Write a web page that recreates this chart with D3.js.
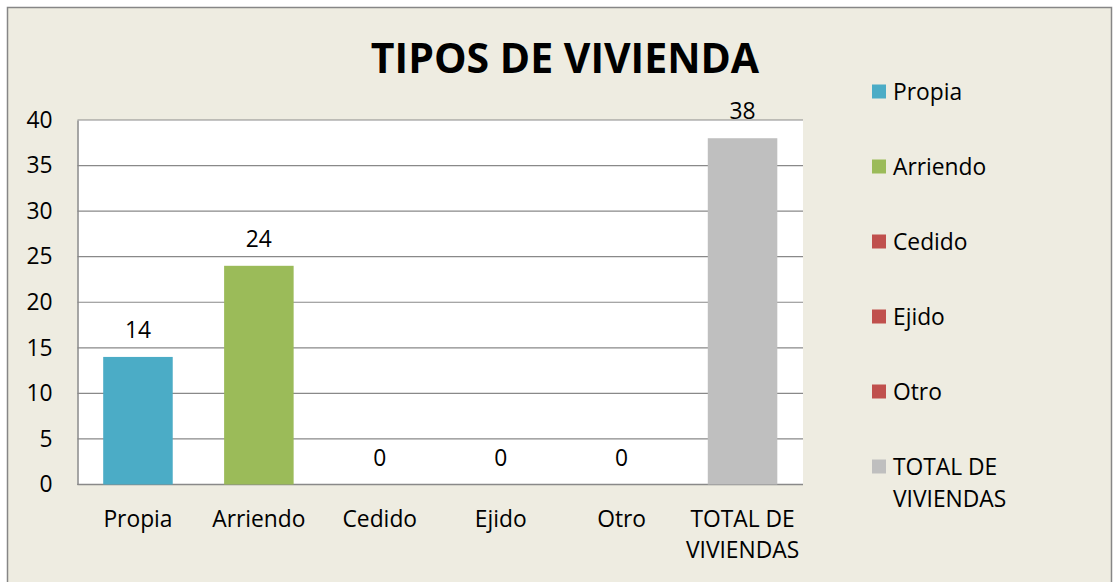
<!DOCTYPE html>
<html>
<head>
<meta charset="utf-8">
<script src="https://cdn.jsdelivr.net/npm/d3@7"></script>
<style>
  html, body { margin: 0; padding: 0; background: #ffffff; }
  svg { display: block; }
  text { font-family: "Open Sans", "Noto Sans", sans-serif; fill: #000; }
</style>
</head>
<body>
<svg id="chart" width="1113" height="582"></svg>
<script>
// ---- Data ----
const categories = ["Propia", "Arriendo", "Cedido", "Ejido", "Otro", "TOTAL DE VIVIENDAS"];
const categoryLines = [["Propia"], ["Arriendo"], ["Cedido"], ["Ejido"], ["Otro"], ["TOTAL DE", "VIVIENDAS"]];
const values = [14, 24, 0, 0, 0, 38];
const colors = ["#4BACC6", "#9BBB59", "#C0504D", "#C0504D", "#C0504D", "#BFBFBF"];
const yTicks = [0, 5, 10, 15, 20, 25, 30, 35, 40];
const title = "TIPOS DE VIVIENDA";

// ---- Layout ----
const svg = d3.select("#chart");
const W = 1113, H = 582;
const plot = { left: 77.5, right: 803, top: 120, bottom: 484.5 };
const FS = 22.8;

// background + outer border
svg.append("rect").attr("x", 0).attr("y", 0).attr("width", W).attr("height", H).attr("fill", "#ffffff");
svg.append("rect").attr("x", 7.5).attr("y", 7.5).attr("width", 1104).attr("height", 620)
  .attr("fill", "#EEECE1").attr("stroke", "#868686").attr("stroke-width", 1.5);

// plot area
svg.append("rect").attr("x", plot.left).attr("y", plot.top)
  .attr("width", plot.right - plot.left).attr("height", plot.bottom - plot.top)
  .attr("fill", "#ffffff");

const x = d3.scaleBand().domain(categories).range([plot.left, plot.right])
  .paddingInner(0.425).paddingOuter(0.2125);
const y = d3.scaleLinear().domain([0, 40]).range([plot.bottom, plot.top]);

// gridlines
svg.append("g").selectAll("line").data(yTicks).join("line")
  .attr("x1", plot.left).attr("x2", plot.right)
  .attr("y1", d => y(d)).attr("y2", d => y(d))
  .attr("stroke", "#898989").attr("stroke-width", 1.2);

// y axis via d3 axis
const yAxis = d3.axisLeft(y).tickValues(yTicks).tickSize(0).tickPadding(25).tickFormat(d3.format("d"));
const gy = svg.append("g").attr("transform", `translate(${plot.left},0)`).call(yAxis);
gy.select(".domain").attr("stroke", "#898989").attr("stroke-width", 1.5);
gy.selectAll("text").attr("font-size", FS).attr("font-family", '"Open Sans", sans-serif').attr("fill", "#000");

// bottom axis line
svg.append("line").attr("x1", plot.left).attr("x2", plot.right)
  .attr("y1", y(0)).attr("y2", y(0)).attr("stroke", "#898989").attr("stroke-width", 1.5);

// bars
svg.append("g").selectAll("rect").data(values).join("rect")
  .attr("x", (d, i) => x(categories[i]))
  .attr("width", x.bandwidth())
  .attr("y", d => y(d))
  .attr("height", d => y(0) - y(d))
  .attr("fill", (d, i) => colors[i]);

// value labels
svg.append("g").selectAll("text").data(values).join("text")
  .attr("x", (d, i) => x(categories[i]) + x.bandwidth() / 2)
  .attr("y", d => y(d) - 19)
  .attr("text-anchor", "middle")
  .attr("font-size", FS)
  .text(d => d);

// x category labels
const xl = svg.append("g").selectAll("text").data(categoryLines).join("text")
  .attr("x", (d, i) => x(categories[i]) + x.bandwidth() / 2)
  .attr("y", 527)
  .attr("text-anchor", "middle")
  .attr("font-size", FS);
xl.selectAll("tspan").data(d => d).join("tspan")
  .attr("x", function() { return d3.select(this.parentNode).attr("x"); })
  .attr("dy", (d, j) => j === 0 ? 0 : 31)
  .text(d => d);

// title
svg.append("text").attr("x", 565).attr("y", 73)
  .attr("text-anchor", "middle").attr("font-size", 41).attr("font-weight", "bold")
  .text(title);

// legend
const lg = svg.append("g").selectAll("g").data(categories).join("g")
  .attr("transform", (d, i) => `translate(872,${91.5 + i * 75})`);
lg.append("rect").attr("x", 0).attr("y", -7).attr("width", 14).attr("height", 14)
  .attr("fill", (d, i) => colors[i]);
const lt = lg.append("text").attr("x", 21).attr("y", 8).attr("font-size", FS);
lt.selectAll("tspan").data((d, i) => categoryLines[i]).join("tspan")
  .attr("x", 21).attr("dy", (d, j) => j === 0 ? 0 : 32)
  .text(d => d);
</script>
</body>
</html>
